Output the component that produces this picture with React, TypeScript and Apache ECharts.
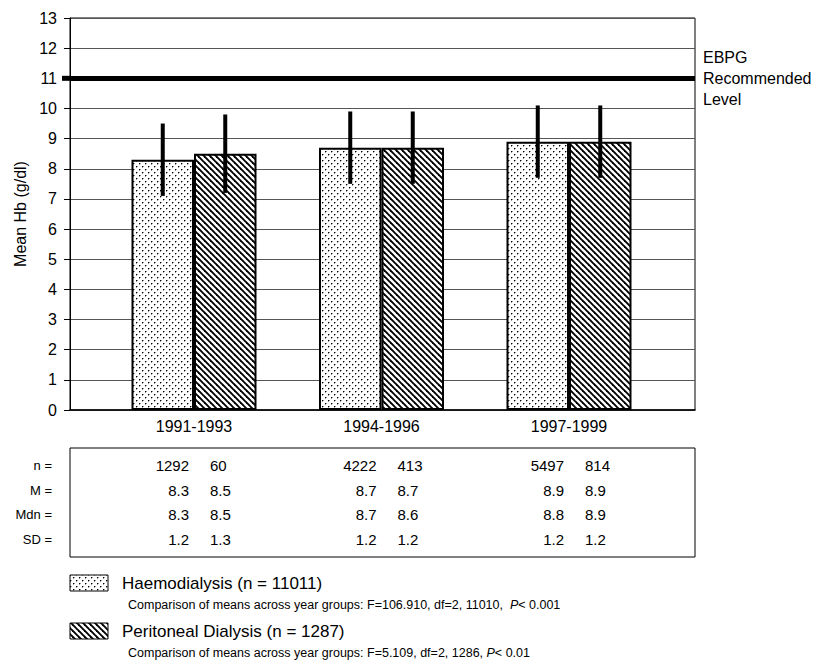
import React, { useEffect, useRef } from 'react';
import * as echarts from 'echarts';

const categories = ['1991-1993', '1994-1996', '1997-1999'];
const haemoMean = [8.3, 8.7, 8.9];
const pdMean = [8.5, 8.7, 8.9];
const haemoSD = [1.2, 1.2, 1.2];
const pdSD = [1.3, 1.2, 1.2];
const haemoN = [1292, 4222, 5497];
const pdN = [60, 413, 814];
const haemoMedian = [8.3, 8.7, 8.8];
const pdMedian = [8.5, 8.6, 8.9];
const ebpgLevel = 11;
const yMin = 0;
const yMax = 13;
const yInterval = 1;
const rowLabels = ['n =', 'M =', 'Mdn =', 'SD ='];
const seriesNames = ['Haemodialysis', 'Peritoneal Dialysis'];
const legendTitles = ['Haemodialysis (n = 11011)', 'Peritoneal Dialysis (n = 1287)'];
const legendNotes = [
  'Comparison of means across year groups: F=106.910, df=2, 11010,  {it|P}< 0.001',
  'Comparison of means across year groups: F=5.109, df=2, 1286, {it|P}< 0.01',
];
const ebpgText = 'EBPG\nRecommended\nLevel';
const yName = 'Mean Hb (g/dl)';

const FONT = '"Liberation Sans", Arial, sans-serif';

function makeDots() {
  const s = 6;
  const c = document.createElement('canvas');
  c.width = s;
  c.height = s;
  const g = c.getContext('2d')!;
  g.fillStyle = '#fff';
  g.fillRect(0, 0, s, s);
  for (const [x, y] of [[1, 1], [4, 4]]) {
    g.fillStyle = '#000';
    g.fillRect(x, y, 1, 1);
    g.fillStyle = '#999';
    g.fillRect(x + 1, y, 1, 1);
    g.fillRect(x, y + 1, 1, 1);
  }
  return { image: c, repeat: 'repeat', imageWidth: s, imageHeight: s } as any;
}

function makeHatch() {
  const s = 6;
  const c = document.createElement('canvas');
  c.width = s;
  c.height = s;
  const g = c.getContext('2d')!;
  g.fillStyle = '#fff';
  g.fillRect(0, 0, s, s);
  g.strokeStyle = '#000';
  g.lineWidth = 1.9;
  for (const k of [-s, 0, s]) {
    g.beginPath();
    g.moveTo(k - 1, -1);
    g.lineTo(k + s + 1, s + 1);
    g.stroke();
  }
  return { image: c, repeat: 'repeat', imageWidth: s, imageHeight: s } as any;
}

export default function App() {
  const ref = useRef<HTMLDivElement>(null);
  useEffect(() => {
    document.body.style.margin = '0';
    const chart = echarts.init(ref.current!, null, { renderer: 'svg' });
    const dots = makeDots();
    const hatch = makeHatch();
    const patterns = [dots, hatch];
    const means = [haemoMean, pdMean];
    const sds = [haemoSD, pdSD];

    const errorSeries = [0, 1].map((s) => ({
      type: 'custom',
      xAxisIndex: 1,
      yAxisIndex: 1,
      z: 10,
      silent: true,
      encode: { x: 0, y: [1, 2] },
      data: categories.map((_, i) => [i, means[s][i] - sds[s][i], means[s][i] + sds[s][i]]),
      renderItem: (params: any, api: any) => {
        const cat = api.value(0);
        const band = api.size([1, 0])[0];
        const x = api.coord([cat, 0])[0] + (s === 0 ? -1 : 1) * band / 6;
        const top = api.coord([cat, api.value(2)])[1];
        const bottom = api.coord([cat, api.value(1)])[1];
        return {
          type: 'line',
          shape: { x1: x, y1: top, x2: x, y2: bottom },
          style: { stroke: '#000', lineWidth: 4 },
        };
      },
    }));

    chart.setOption({
      animation: false,
      textStyle: { fontFamily: FONT },
      grid: [
        { left: 70, right: 131, top: 18, bottom: 260, show: true, borderColor: '#000', borderWidth: 1, backgroundColor: 'transparent' },
        { left: 100.25, right: 163.25, top: 18, bottom: 260 },
      ],
      xAxis: [
        {
          type: 'value', gridIndex: 0, min: 0, max: 1,
          axisLine: { show: true, lineStyle: { color: '#000', width: 1.5 } },
          axisTick: { show: false }, axisLabel: { show: false }, splitLine: { show: false },
        },
        {
          type: 'category', gridIndex: 1, data: categories,
          axisLine: { show: false }, axisTick: { show: false },
          axisLabel: { color: '#000', fontSize: 16, fontFamily: FONT, margin: 8 },
        },
      ],
      yAxis: [
        {
          type: 'value', gridIndex: 0, min: yMin, max: yMax, interval: yInterval,
          name: yName, nameLocation: 'middle', nameGap: 40,
          nameTextStyle: { color: '#000', fontSize: 16, fontFamily: FONT },
          axisLine: { show: true, lineStyle: { color: '#000', width: 1 } },
          axisTick: { show: true, length: 6, lineStyle: { color: '#000' } },
          axisLabel: { color: '#000', fontSize: 16, fontFamily: FONT, margin: 13 },
          splitLine: { show: true, lineStyle: { color: '#555', width: 1 } },
        },
        { type: 'value', gridIndex: 1, min: yMin, max: yMax, interval: yInterval, show: false },
      ],
      series: [
        {
          type: 'line', xAxisIndex: 0, yAxisIndex: 0, data: [], silent: true,
          markLine: {
            silent: true, symbol: 'none', label: { show: false },
            lineStyle: { color: '#000', width: 5, type: 'solid' },
            data: [{ yAxis: ebpgLevel }],
          },
        },
        ...[0, 1].map((s) => ({
          type: 'bar', name: seriesNames[s], xAxisIndex: 1, yAxisIndex: 1,
          data: means[s], barGap: '0%', barCategoryGap: '33.333%',
          itemStyle: { color: patterns[s], borderColor: '#000', borderWidth: 2 },
        })),
        ...errorSeries,
      ],
    });

    const leftPx = chart.convertToPixel({ gridIndex: 0 }, [0, 0]) as number[];
    const rightPx = chart.convertToPixel({ gridIndex: 0 }, [1, 0]) as number[];
    const ebpgPx = chart.convertToPixel({ gridIndex: 0 }, [1, ebpgLevel]) as number[];
    const centers = categories.map((_, i) => (chart.convertToPixel({ gridIndex: 1 }, [i, 0]) as number[])[0]);
    const rows = [
      [haemoN.map(String), pdN.map(String)],
      [haemoMean.map((v) => v.toFixed(1)), pdMean.map((v) => v.toFixed(1))],
      [haemoMedian.map((v) => v.toFixed(1)), pdMedian.map((v) => v.toFixed(1))],
      [haemoSD.map((v) => v.toFixed(1)), pdSD.map((v) => v.toFixed(1))],
    ];
    const rowY = [465, 490, 514.5, 539];
    const graphics: any[] = [];
    graphics.push({
      type: 'line', shape: { x1: leftPx[0] - 8, y1: ebpgPx[1], x2: leftPx[0], y2: ebpgPx[1] },
      style: { stroke: '#000', lineWidth: 5 },
    });
    graphics.push({
      type: 'rect', shape: { x: leftPx[0], y: 448, width: rightPx[0] - leftPx[0], height: 109 },
      style: { fill: 'none', stroke: '#000', lineWidth: 1 },
    });
    rows.forEach((row, r) => {
      graphics.push({
        type: 'text', x: 52, y: rowY[r],
        style: { text: rowLabels[r], fill: '#000', font: `13px ${FONT}`, align: 'right', verticalAlign: 'middle' },
      });
      centers.forEach((cx, i) => {
        graphics.push({
          type: 'text', x: cx - 5, y: rowY[r],
          style: { text: row[0][i], fill: '#000', font: `15px ${FONT}`, align: 'right', verticalAlign: 'middle' },
        });
        graphics.push({
          type: 'text', x: cx + 16, y: rowY[r],
          style: { text: row[1][i], fill: '#000', font: `15px ${FONT}`, align: 'left', verticalAlign: 'middle' },
        });
      });
    });
    const legendY = [575, 623];
    [0, 1].forEach((s) => {
      graphics.push({
        type: 'rect', shape: { x: leftPx[0], y: legendY[s], width: 38, height: 16 },
        style: { fill: patterns[s], stroke: '#000', lineWidth: 1 },
      });
      graphics.push({
        type: 'text', x: 122, y: legendY[s] + 8,
        style: { text: legendTitles[s], fill: '#000', font: `17px ${FONT}`, align: 'left', verticalAlign: 'middle' },
      });
      graphics.push({
        type: 'text', x: 128, y: legendY[s] + 30,
        style: {
          text: legendNotes[s], fill: '#000', font: `12.5px ${FONT}`, align: 'left', verticalAlign: 'middle',
          rich: { it: { fontStyle: 'italic', fontSize: 12.5, fontFamily: FONT, fill: '#000' } },
        },
      });
    });
    graphics.push({
      type: 'text', x: rightPx[0] + 8, y: ebpgPx[1],
      style: { text: ebpgText, fill: '#000', font: `16px ${FONT}`, lineHeight: 21, align: 'left', verticalAlign: 'middle' },
    });
    chart.setOption({ graphic: graphics });

    return () => chart.dispose();
  }, []);
  return <div ref={ref} style={{ width: 826, height: 670 }} />;
}
